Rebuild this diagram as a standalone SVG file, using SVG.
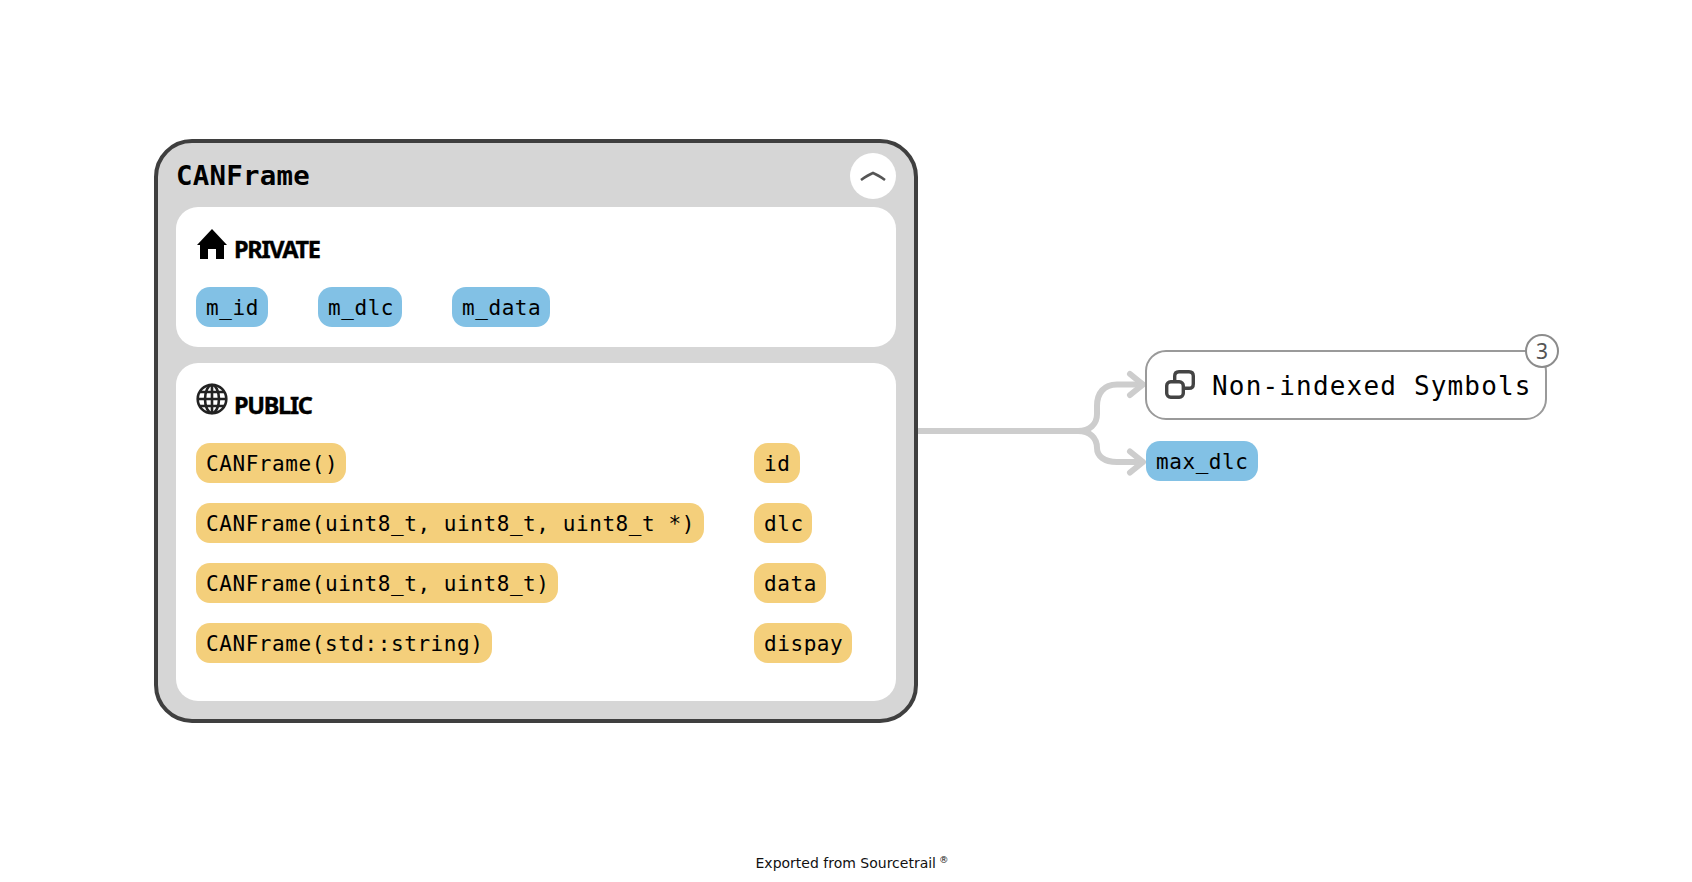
<svg xmlns="http://www.w3.org/2000/svg" width="1692" height="882" viewBox="0 0 1692 882">
<style>
.m{font-family:"DejaVu Sans Mono","Liberation Mono",monospace;font-size:21px;letter-spacing:.57px;fill:#000}
.b{fill:#82c1e5}.o{fill:#f4cf7b}
.h{font-family:"Noto Sans","Open Sans",sans-serif;font-weight:700;font-size:23.5px;letter-spacing:-1.3px;fill:#000;stroke:#000;stroke-width:.4}
.c{fill:none;stroke:#cdcdcd;stroke-width:6;stroke-linecap:round;stroke-linejoin:round}
</style>
<rect width="1692" height="882" fill="#fff"/>
<g id="connectors">
<path class="c" d="M918 431H1078C1090 431 1097 424 1097 414V406C1097 393 1104 384.500 1117 384.500H1142"/>
<path class="c" d="M1078 431C1090 431 1097 438 1097 448V448C1097 456 1104 462 1117 462H1142"/>
<path class="c" d="M1130 374L1143 384.500L1130 395M1130 451.500L1143 462L1130 472.500"/>
</g>
<g id="canframe">
<rect x="156" y="141" width="760" height="580" rx="36" fill="#d6d6d6" stroke="#3f3f3f" stroke-width="4"/>
<text x="176" y="185" style="font-family:'DejaVu Sans Mono',monospace;font-weight:700;font-size:27.4px;letter-spacing:.25px">CANFrame</text>
<circle cx="873" cy="176" r="23" fill="#fff"/>
<path d="M861 180Q868 175 873 173Q878 175 885 180" fill="none" stroke="#555" stroke-width="2.6"/>
<rect x="176" y="207" width="720" height="140" rx="22" fill="#fff"/>
<rect x="176" y="363" width="720" height="338" rx="22" fill="#fff"/>
<path d="M212 229L227 245H224V259H216V249H208V259H200V245H197Z" fill="#000"/>
<text class="h" x="234" y="258">PRIVATE</text>
<g fill="none" stroke="#222" stroke-width="2.6"><circle cx="212" cy="399" r="14.300"/><ellipse cx="212" cy="399" rx="7" ry="14"/><path d="M198 399H226M200 392H224M200 406H224M212 385V413"/></g>
<text class="h" x="234" y="414">PUBLIC</text>
</g>
<g id="m_id"><rect class="b" x="196" y="287" width="72" height="40" rx="14"/><text class="m" x="206" y="315">m_id</text></g>
<g id="m_dlc"><rect class="b" x="318" y="287" width="84" height="40" rx="14"/><text class="m" x="328" y="315">m_dlc</text></g>
<g id="m_data"><rect class="b" x="452" y="287" width="98" height="40" rx="14"/><text class="m" x="462" y="315">m_data</text></g>
<g id="ctor1"><rect class="o" x="196" y="443" width="150" height="40" rx="14"/><text class="m" x="206" y="471">CANFrame()</text></g>
<g id="ctor2"><rect class="o" x="196" y="503" width="508" height="40" rx="14"/><text class="m" x="206" y="531">CANFrame(uint8_t, uint8_t, uint8_t *)</text></g>
<g id="ctor3"><rect class="o" x="196" y="563" width="362" height="40" rx="14"/><text class="m" x="206" y="591">CANFrame(uint8_t, uint8_t)</text></g>
<g id="ctor4"><rect class="o" x="196" y="623" width="296" height="40" rx="14"/><text class="m" x="206" y="651">CANFrame(std::string)</text></g>
<g id="id"><rect class="o" x="754" y="443" width="46" height="40" rx="14"/><text class="m" x="764" y="471">id</text></g>
<g id="dlc"><rect class="o" x="754" y="503" width="58" height="40" rx="14"/><text class="m" x="764" y="531">dlc</text></g>
<g id="data"><rect class="o" x="754" y="563" width="72" height="40" rx="14"/><text class="m" x="764" y="591">data</text></g>
<g id="dispay"><rect class="o" x="754" y="623" width="98" height="40" rx="14"/><text class="m" x="764" y="651">dispay</text></g>
<g id="non-indexed">
<rect x="1146" y="351" width="400" height="68" rx="20" fill="#fff" stroke="#9a9a9a" stroke-width="2"/>
<g fill="none" stroke="#444" stroke-width="3.4"><rect x="1166.700" y="381.700" width="16.600" height="15.600" rx="4"/><path d="M1174.700 381V376Q1174.700 371.700 1179 371.700H1189Q1193.300 371.700 1193.300 376V384Q1193.300 388.300 1189 388.300H1184"/></g>
<text x="1212" y="395" style="font-family:'DejaVu Sans Mono',monospace;font-size:26px;letter-spacing:1.17px">Non-indexed Symbols</text>
<circle cx="1542" cy="351" r="16" fill="#fff" stroke="#8c8c8c" stroke-width="2"/>
<text x="1542" y="359" text-anchor="middle" style="font-family:'Noto Sans',sans-serif;font-size:21px;fill:#555">3</text>
</g>
<g id="max_dlc"><rect class="b" x="1146" y="441" width="112" height="40" rx="14"/><text class="m" x="1156" y="469">max_dlc</text></g>
<text id="footer" x="755.500" y="868" style="font-family:'DejaVu Sans',sans-serif;font-size:14px;fill:#111">Exported from Sourcetrail</text>
<text x="939" y="863" style="font-family:'DejaVu Sans',sans-serif;font-size:9.500px;fill:#111">®</text>
</svg>
